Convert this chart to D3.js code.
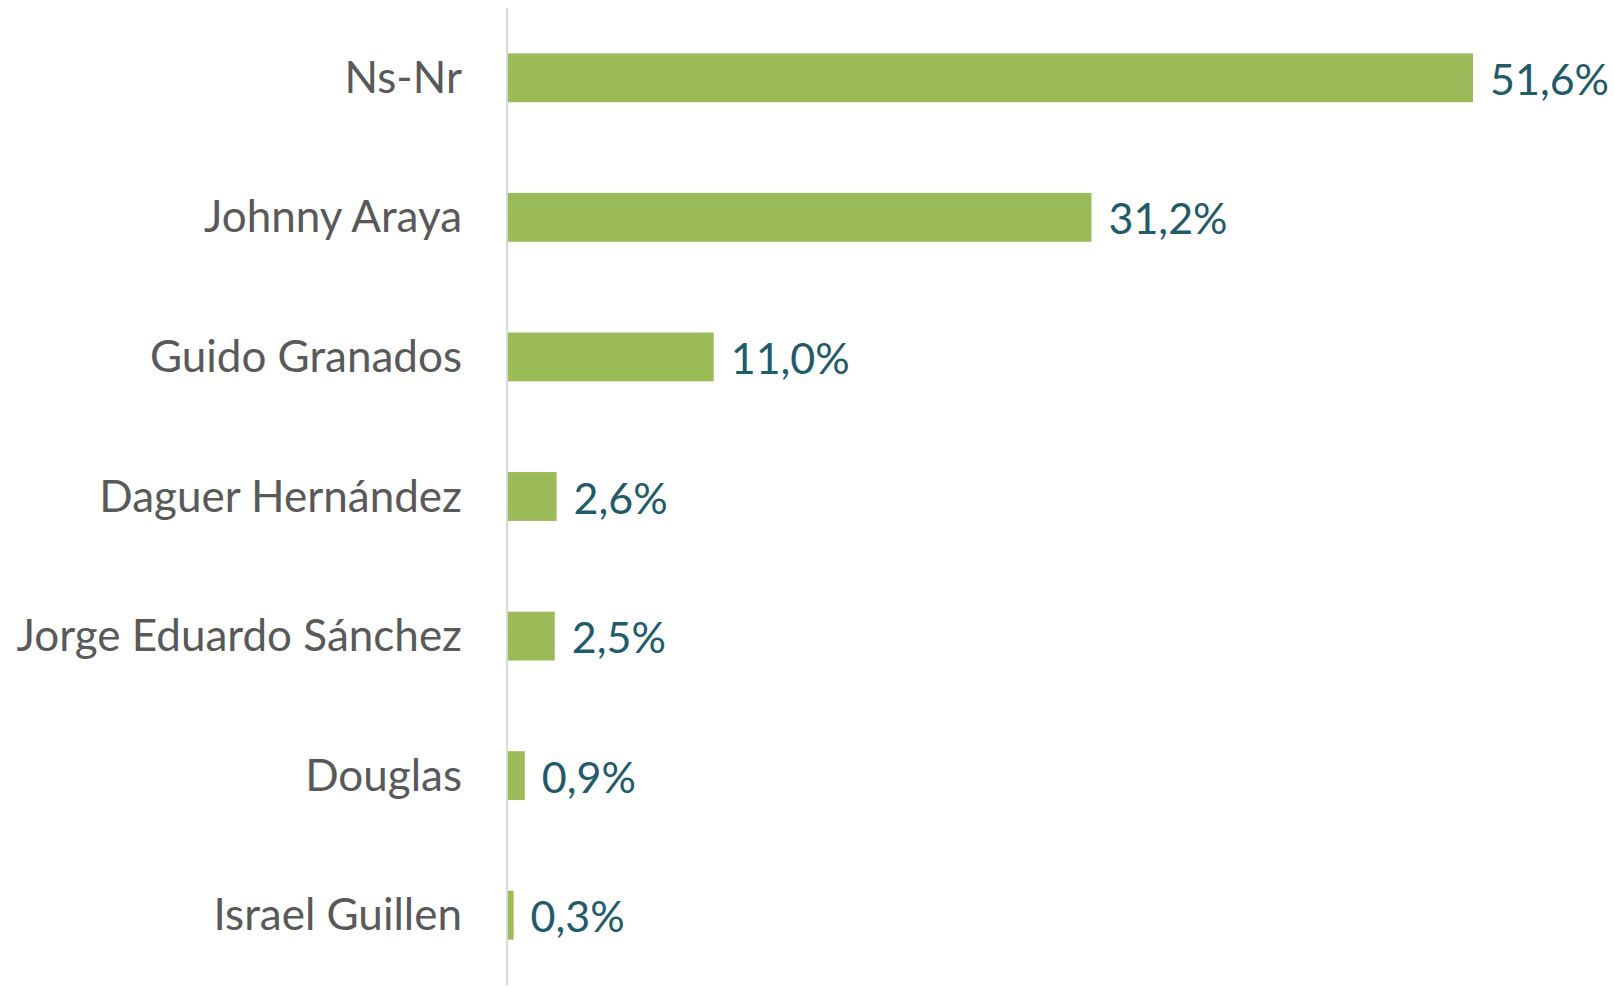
<!DOCTYPE html>
<html>
<head>
<meta charset="utf-8">
<script src="https://cdn.jsdelivr.net/npm/d3@7"></script>
<style>
  body { margin: 0; background: #fff; }
  text { font-family: Lato, "Open Sans", sans-serif; }
</style>
</head>
<body>
<script>
const candidates = ["Ns-Nr", "Johnny Araya", "Guido Granados", "Daguer Hernández",
  "Jorge Eduardo Sánchez", "Douglas", "Israel Guillen"];
const shares = [51.6, 31.2, 11.0, 2.6, 2.5, 0.9, 0.3];

const width = 1614, height = 987;

const svg = d3.select("body").append("svg")
  .attr("width", width)
  .attr("height", height);

const x = d3.scaleLinear()
  .domain([0, 51.6])
  .range([508, 1473]);

const y = d3.scaleBand()
  .domain(candidates)
  .range([8, 985])
  .paddingInner(0.65)
  .paddingOuter(0.325);

const fmt = v => d3.format(".1f")(v).replace(".", ",") + "%";

svg.selectAll("rect")
  .data(candidates)
  .join("rect")
  .attr("x", x(0))
  .attr("y", d => y(d))
  .attr("width", (d, i) => x(shares[i]) - x(0))
  .attr("height", y.bandwidth())
  .attr("fill", "#9BBB59");

// vertical axis line
svg.append("line")
  .attr("x1", 507).attr("x2", 507)
  .attr("y1", 8).attr("y2", 985)
  .attr("stroke", "#D9D9D9")
  .attr("stroke-width", 2);

svg.selectAll(".cat")
  .data(candidates)
  .join("text")
  .attr("class", "cat")
  .attr("x", 462)
  .attr("y", d => y(d) + y.bandwidth() / 2 + 15)
  .attr("text-anchor", "end")
  .attr("font-size", 44)
  .attr("fill", "#595959")
  .text(d => d);

svg.selectAll(".val")
  .data(candidates)
  .join("text")
  .attr("class", "val")
  .attr("x", (d, i) => x(shares[i]) + 17)
  .attr("y", d => y(d) + y.bandwidth() / 2 + 17)
  .attr("font-size", 43)
  .attr("fill", "#215A69")
  .text((d, i) => fmt(shares[i]));
</script>
</body>
</html>
